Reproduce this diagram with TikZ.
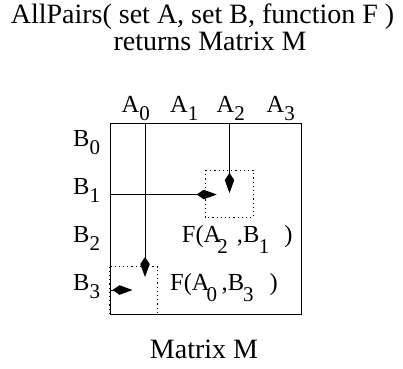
\documentclass[tikz,border=0pt]{standalone}
\usepackage{fontspec}
\setmainfont{Liberation Serif}
\usetikzlibrary{arrows.meta}
\newcommand\lowsub[1]{\raisebox{-8pt}{\fontsize{21}{21}\selectfont #1}}
\newcommand\deepsub[1]{\raisebox{-11.5pt}{\fontsize{21}{21}\selectfont #1}}
\begin{document}
\begin{tikzpicture}[x=1pt,y=-1pt,
  title/.style={font=\fontsize{28}{30}\selectfont, inner sep=0pt},
  lab/.style={font=\fontsize{24.5}{26}\selectfont, inner sep=0pt, anchor=base west},
  arr/.style={line width=0.9pt, -{Kite[length=20pt,width=9.5pt,inset=7pt]}},
  dotbox/.style={line width=0.9pt, dash pattern=on 1.2pt off 3pt},
  frame/.style={draw, line width=0.9pt, inner sep=0pt, anchor=north west}]
\useasboundingbox (0,0) rectangle (403,368);
% titles
\node[title, anchor=base] (t1) at (202.5,23) {AllPairs( set A, set B, function F )};
\node[title, anchor=base] (t2) at (210,50) {returns Matrix M};
\node[title, anchor=base] (cap) at (204,358) {Matrix M};
% dotted cells
\draw[dotbox] (205,170) rectangle (253.3,217.3);
\draw[dotbox] (109.5,266.5) rectangle (157.5,314);
% matrix frame
\node[frame, minimum width=191.5pt, minimum height=191.5pt] (M) at (109.5,122.5) {};
% column labels
\node[lab] (a0) at (121.5,112) {A\lowsub{0}};
\node[lab] (a1) at (170,112) {A\lowsub{1}};
\node[lab] (a2) at (216.5,112) {A\lowsub{2}};
\node[lab] (a3) at (266.5,112) {A\lowsub{3}};
% row labels
\node[lab] (b0) at (73,146) {B\lowsub{0}};
\node[lab] (b1) at (73,194.5) {B\lowsub{1}};
\node[lab] (b2) at (73,242) {B\lowsub{2}};
\node[lab] (b3) at (73,290) {B\lowsub{3}};
% cell labels
\node[lab] (f21) at (181.7,242) {F(A\kern-4pt\deepsub{2}\hspace{9pt},B\kern-0.5pt\deepsub{1}\hspace{15pt})};
\node[lab] (f03) at (170,290) {F(A\kern-3pt\deepsub{0}\hspace{4.5pt},B\kern-1pt\deepsub{3}\hspace{16pt})};
% arrows
\coordinate (c0s) at (145,122.5);
\coordinate (c0e) at (145,277);
\coordinate (c2s) at (229.5,122.5);
\coordinate (c2e) at (229.5,193);
\coordinate (r1s) at (109.5,194.5);
\coordinate (r1e) at (216.7,194.5);
\coordinate (r3s) at (109.5,290);
\coordinate (r3e) at (132.5,290);
\draw[arr] (c0s) -- (c0e);
\draw[arr] (c2s) -- (c2e);
\draw[arr] (r1s) -- (r1e);
\draw[arr] (r3s) -- (r3e);
\end{tikzpicture}
\end{document}
